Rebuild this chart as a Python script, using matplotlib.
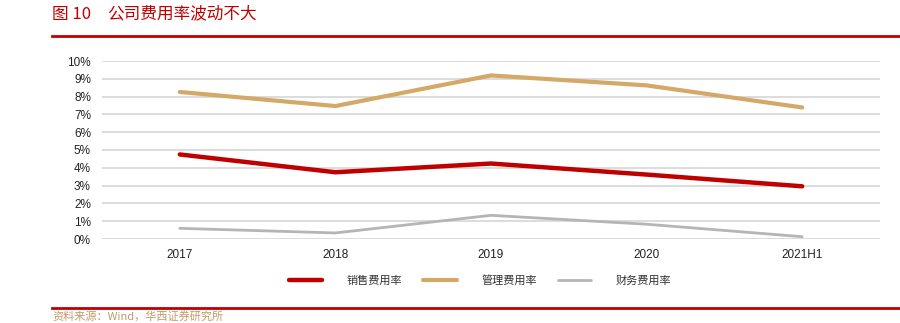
import matplotlib
matplotlib.use("Agg")
import matplotlib.pyplot as plt
from matplotlib.lines import Line2D
from matplotlib.ticker import FuncFormatter

plt.rcParams['font.family'] = ['Liberation Sans', 'Noto Sans CJK SC', 'DejaVu Sans']

categories = ["2017", "2018", "2019", "2020", "2021H1"]
sales_rate = [4.75, 3.75, 4.24, 3.62, 2.96]
admin_rate = [8.26, 7.47, 9.19, 8.63, 7.39]
finance_rate = [0.60, 0.34, 1.33, 0.83, 0.13]
series_names = ["销售费用率", "管理费用率", "财务费用率"]
y_ticks = list(range(0, 11))

RED = "#C00000"
TAN = "#D4A866"
GRAY = "#B5B5B5"
SOURCE = "#C49A66"

fig = plt.figure(figsize=(9, 3.23), dpi=100)
W, H = 900, 323

def fx(px):
    return px / W

def fy(py):
    return 1 - py / H

ax = fig.add_axes([fx(102), fy(239), fx(880) - fx(102), fy(61) - fy(239)])
x = list(range(len(categories)))
ax.plot(x, sales_rate, color=RED, lw=3.2, solid_capstyle='round', zorder=3)
ax.plot(x, admin_rate, color=TAN, lw=3.0, solid_capstyle='round', zorder=3)
ax.plot(x, finance_rate, color=GRAY, lw=2.0, solid_capstyle='round', zorder=3)

ax.set_xlim(-0.5, len(categories) - 0.5)
ax.set_ylim(0, 10)
ax.set_yticks(y_ticks)
ax.yaxis.set_major_formatter(FuncFormatter(lambda v, p: f"{int(v)}%"))
ax.set_xticks(x)
ax.set_xticklabels(categories)
ax.grid(axis='y', color="#D9D9D9", lw=1.3)
ax.set_axisbelow(True)
for s in ax.spines.values():
    s.set_visible(False)
ax.tick_params(axis='both', length=0, labelsize=8.5, colors="#222222")
ax.tick_params(axis='x', pad=7)
ax.tick_params(axis='y', pad=8)

handles = [Line2D([], [], color=c, lw=w, solid_capstyle='round')
           for c, w in [(RED, 3.2), (TAN, 3.0), (GRAY, 2.0)]]
leg = fig.legend(handles, series_names, loc='center', bbox_to_anchor=(fx(480), fy(280)),
                 ncol=3, frameon=False, handlelength=3.0, handletextpad=2.2,
                 columnspacing=1.9, prop={'family': ['Noto Sans CJK SC'], 'size': 8})
for t in leg.get_texts():
    t.set_color("#333333")

# title and rules
fig.text(fx(52), fy(14), "图 10", color=RED, fontsize=12, va='center', ha='left',
         family=['Noto Sans CJK SC', 'DejaVu Sans'])
fig.text(fx(107), fy(14), "公司费用率波动不大", color=RED, fontsize=12, va='center', ha='left',
         family=['Noto Sans CJK SC', 'DejaVu Sans'])
fig.add_artist(Line2D([fx(52), 1.0], [fy(36), fy(36)], color=RED, lw=2.0))
fig.add_artist(Line2D([fx(52), 1.0], [fy(308), fy(308)], color=RED, lw=2.0))
fig.text(fx(52), fy(316.5), "资料来源：Wind，华西证券研究所", color=SOURCE, fontsize=8,
         va='center', ha='left', family=['Noto Sans CJK SC', 'DejaVu Sans'])

fig.savefig("out.png", dpi=100)
